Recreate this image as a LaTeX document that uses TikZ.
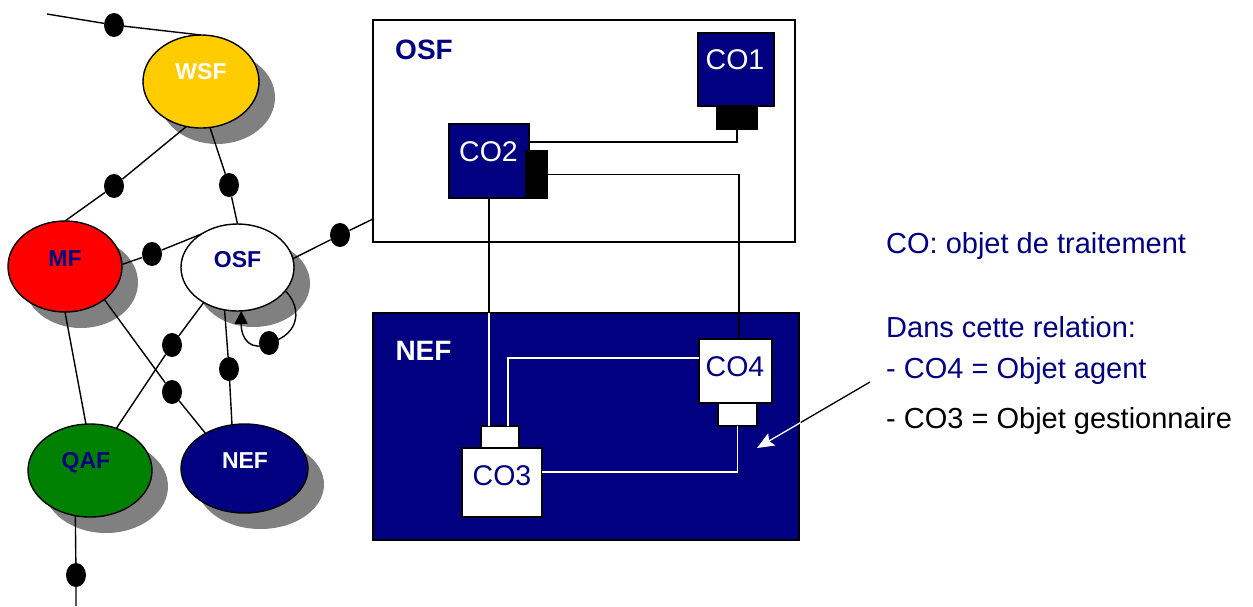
\documentclass[tikz,border=0pt]{standalone}
\usepackage{fontspec}
\setmainfont{Liberation Sans}
\usetikzlibrary{arrows.meta,calc,shapes.geometric,shadows}
\definecolor{navy}{HTML}{000080}
\definecolor{shgray}{HTML}{808080}
\definecolor{wsfyellow}{HTML}{FFCC00}
\definecolor{qafgreen}{HTML}{008000}
\begin{document}
\begin{tikzpicture}[x=1pt,y=-1pt,
  ell/.style={ellipse, draw, line width=1.4pt, inner sep=0pt, outer sep=0pt,
    drop shadow={shadow xshift=16pt, shadow yshift=-16pt, fill=shgray, opacity=1}},
  dotn/.style={ellipse, fill=black, minimum width=20pt, minimum height=24pt, inner sep=0pt},
  conn/.style={line width=1.4pt},
  wconn/.style={line width=1.2pt, white},
  elbl/.style={font=\fontsize{23}{23}\selectfont\bfseries, inner sep=0pt, anchor=base},
  boxlbl/.style={font=\fontsize{28}{28}\selectfont\bfseries, inner sep=0pt, anchor=base},
  colbl/.style={font=\fontsize{28.5}{28.5}\selectfont, inner sep=0pt, anchor=base},
  cobox/.style={rectangle, draw, line width=1.4pt, inner sep=0pt, outer sep=0pt},
  rtxt/.style={font=\fontsize{29}{29}\selectfont, inner sep=0pt, anchor=base west},
]
\useasboundingbox (0,0) rectangle (1253,606);

% ---- frames on the right
\node[rectangle, draw, line width=1.6pt, fill=white, minimum width=422pt, minimum height=222pt, inner sep=0pt, outer sep=0pt] (osfbox) at (584,131) {};
\node[rectangle, draw, line width=1.6pt, fill=navy, minimum width=426pt, minimum height=227pt, inner sep=0pt, outer sep=0pt] (nefbox) at (586,426.5) {};
\node[boxlbl, text=navy] (osfboxlbl) at (424,59) {OSF};
\node[boxlbl, text=white] (nefboxlbl) at (423.5,360) {NEF};

% ---- computational objects
\node[cobox, fill=navy, minimum width=76pt, minimum height=73pt] (co1) at (736,69.5) {};
\node[cobox, fill=black, minimum width=40pt, minimum height=23pt] (co1p) at (737,117.5) {};
\node[cobox, fill=navy, minimum width=80pt, minimum height=74pt] (co2) at (489,161) {};
\node[cobox, fill=black, minimum width=21pt, minimum height=47pt] (co2p) at (536.5,174.5) {};
\node[cobox, fill=white, minimum width=73pt, minimum height=64pt] (co4) at (735.5,371) {};
\node[cobox, fill=white, minimum width=39pt, minimum height=23pt] (co4p) at (737.5,414.5) {};
\node[cobox, fill=white, minimum width=38pt, minimum height=22pt] (co3p) at (500,437) {};
\node[cobox, fill=white, minimum width=80pt, minimum height=69pt] (co3) at (502,482.5) {};
\node[colbl, text=white] (co1l) at (735,69) {CO1};
\node[colbl, text=white] (co2l) at (488.5,161) {CO2};
\node[colbl, text=navy] (co4l) at (735,376) {CO4};
\node[colbl, text=navy] (co3l) at (502,485) {CO3};

% connectors between objects
\draw[line width=1.2pt] (co1p.south) |- ([yshift=19pt]co2.east);
\draw[line width=1.2pt] (co2p.east) -| ([xshift=3.5pt]co4.north);
\draw[line width=1.2pt] (co2.south) -- (co2.south |- nefbox.north);
\draw[wconn] (co2.south |- nefbox.north) -- (co2.south |- co3p.north);
\draw[wconn] ([yshift=13pt]co4.west) -| ([xshift=8pt]co3p.north);
\draw[wconn] (co4p.south) |- ([yshift=10.5pt]co3.east);

% pointer arrow
\coordinate (arrstart) at (870,382);
\coordinate (arrtip) at (757,448);
\draw[line width=1.3pt, white, -{Stealth[length=17pt, width=14pt, inset=3pt]}] (arrstart) -- (arrtip);
\begin{scope}
\clip (800.5,0) rectangle (1253,606);
\draw[line width=1.3pt, black] (arrstart) -- (arrtip);
\end{scope}

% ---- text on the right
\node[rtxt, text=navy] (t1) at (886,253) {CO: objet de traitement};
\node[rtxt, text=navy] (t2) at (886,337) {Dans cette relation:};
\node[rtxt, text=navy] (t3) at (886,378) {- CO4 = Objet agent};
\node[rtxt, text=black] (t4) at (886,428) {- CO3 = Objet gestionnaire};

% ---- function blocks (ellipses)
\node[ell, fill=wsfyellow, minimum width=116pt, minimum height=93pt] (WSF) at (201,81.5) {};
\node[ell, fill=red, minimum width=114pt, minimum height=91pt] (MF) at (65,266.5) {};
\node[ell, fill=white, minimum width=113pt, minimum height=87pt] (OSF) at (237.5,267.5) {};
\node[ell, fill=qafgreen, minimum width=124pt, minimum height=93pt] (QAF) at (90,470.5) {};
\node[ell, fill=navy, minimum width=127pt, minimum height=89pt] (NEF) at (244.5,468.5) {};
\node[elbl, text=white] (WSFl) at (201,79) {WSF};
\node[elbl, text=navy] (MFl) at (65,266) {MF};
\node[elbl, text=navy] (OSFl) at (237.5,267) {OSF};
\node[elbl, text=navy] (QAFl) at (86,468) {QAF};
\node[elbl, text=white] (NEFl) at (245,468) {NEF};

% ---- reference points (dots)
\node[dotn] (d1) at (114,25) {};
\node[dotn] (d2) at (114,186) {};
\node[dotn] (d3) at (229,185) {};
\node[dotn] (d4) at (152,254) {};
\node[dotn] (d5) at (340,235) {};
\node[dotn] (d6) at (172,345) {};
\node[dotn] (d7) at (172,392) {};
\node[dotn] (d8) at (229,369) {};
\node[dotn] (d9) at (269,343) {};
\node[dotn] (d10) at (76,575) {};

\coordinate (topend) at (47,14);
\coordinate (botend) at (76,606);
\coordinate (osfin) at (373,219);

% ---- connectors
\draw[conn] (topend) -- (d1) -- (WSF.90);
\draw[conn] (WSF.252) -- (d2) -- (MF.90);
\draw[conn] (WSF.281) -- (d3) -- (OSF.90);
\draw[conn] (MF.2) -- (d4) -- (OSF.137);
\draw[conn] (OSF.9.5) -- (d5) -- (osfin);
\draw[conn] (MF.270) -- (QAF.95);
\draw[conn] (MF.320) -- (d7) -- (NEF.138);
\draw[conn] (QAF.58) -- (d6) -- (OSF.226);
\draw[conn] (OSF.253) -- (d8) -- (NEF.106);
\draw[conn] (QAF.252) -- (d10) -- (botend);
\draw[conn] (OSF.334) .. controls (301,306) and (302,334) .. (d9.center);
\draw[conn, -{Triangle[length=13pt, width=13pt]}] (d9.center) .. controls (252,352) and (241,340) .. (OSF.275);
\end{tikzpicture}
\end{document}
